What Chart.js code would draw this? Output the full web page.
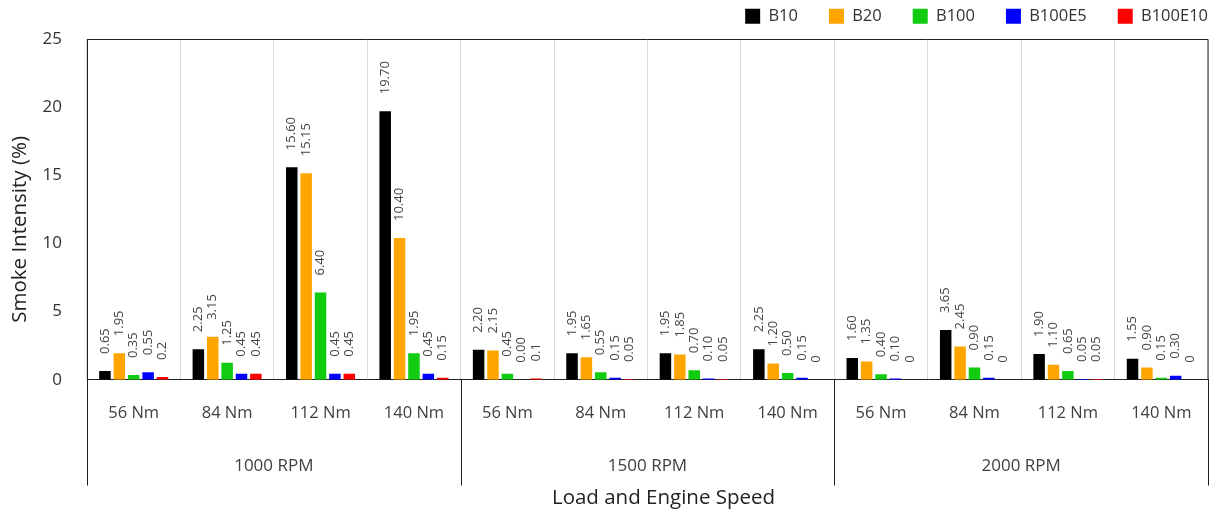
<!DOCTYPE html>
<html>
<head>
<meta charset="utf-8">
<script src="https://cdn.jsdelivr.net/npm/chart.js@4"></script>
<style>
  html, body { margin: 0; padding: 0; background: #fff; }
  #wrap { width: 1221px; height: 516px; }
</style>
</head>
<body>
<div id="wrap"><canvas id="smokeChart" width="1221" height="516"></canvas></div>
<script>
const loads = ['56 Nm', '84 Nm', '112 Nm', '140 Nm', '56 Nm', '84 Nm', '112 Nm', '140 Nm', '56 Nm', '84 Nm', '112 Nm', '140 Nm'];
const speeds = ['1000 RPM', '1500 RPM', '2000 RPM'];
const yTicks = [0, 5, 10, 15, 20, 25];
const xTitle = 'Load and Engine Speed';
const yTitle = 'Smoke Intensity (%)';

const b10 = [0.65, 2.25, 15.60, 19.70, 2.20, 1.95, 1.95, 2.25, 1.60, 3.65, 1.90, 1.55];
const b20 = [1.95, 3.15, 15.15, 10.40, 2.15, 1.65, 1.85, 1.20, 1.35, 2.45, 1.10, 0.90];
const b100 = [0.35, 1.25, 6.40, 1.95, 0.45, 0.55, 0.70, 0.50, 0.40, 0.90, 0.65, 0.15];
const b100e5 = [0.55, 0.45, 0.45, 0.45, 0.00, 0.15, 0.10, 0.15, 0.10, 0.15, 0.05, 0.30];
const b100e10 = [0.2, 0.45, 0.45, 0.15, 0.1, 0.05, 0.05, 0, 0, 0, 0.05, 0];

const FONT = "'Open Sans', 'DejaVu Sans', sans-serif";
const LEGEND_PAD = 31;

// value labels, rotated, above each bar
const barLabels = {
  id: 'barLabels',
  afterDatasetsDraw(chart) {
    const ctx = chart.ctx;
    ctx.save();
    ctx.font = `13px ${FONT}`;
    ctx.fillStyle = '#444';
    ctx.textAlign = 'left';
    ctx.textBaseline = 'middle';
    chart.data.datasets.forEach((ds, di) => {
      chart.getDatasetMeta(di).data.forEach((bar, i) => {
        const v = ds.data[i];
        const txt = di === 4 ? String(v) : v.toFixed(2);
        ctx.save();
        ctx.translate(bar.x, bar.y - 17);
        ctx.rotate(-Math.PI / 2);
        ctx.fillText(txt, 0, 0);
        ctx.restore();
      });
    });
    ctx.restore();
  }
};

// legend sits in the top strip, right aligned to the canvas edge
const legendBox = {
  id: 'legendBox',
  beforeInit(chart) {
    const lg = chart.legend;
    const fit = lg.fit;
    lg.fit = function () {
      fit.call(this);
      this.height = 39;
    };
  },
  afterLayout(chart) {
    const lg = chart.legend;
    lg.top = 16 - LEGEND_PAD - 8;
    lg.right = chart.width - 13 + LEGEND_PAD;
  }
};

// frame, group separators and the two axis titles (placed off-centre like the original)
const frameLines = {
  id: 'frameLines',
  afterDraw(chart) {
    const {ctx, chartArea} = chart;
    const x = chart.scales.x;
    const x2 = chart.scales.x2;
    const half = (x.getPixelForValue(1) - x.getPixelForValue(0)) / 2;
    ctx.save();
    ctx.strokeStyle = '#222';
    ctx.lineWidth = 1;
    ctx.beginPath();
    ctx.moveTo(chartArea.left, chartArea.top + 0.5);
    ctx.lineTo(chartArea.right, chartArea.top + 0.5);
    ctx.lineTo(chartArea.right, chartArea.bottom);
    ctx.stroke();
    [0, 4, 8, 12].forEach(i => {
      const px = Math.round(x.getPixelForValue(i) - half) + 0.5;
      ctx.beginPath();
      ctx.moveTo(px, chartArea.bottom);
      ctx.lineTo(px, x2.top + 38);
      ctx.stroke();
    });

    ctx.fillStyle = '#222';
    ctx.font = `20.5px ${FONT}`;
    ctx.textAlign = 'center';
    ctx.textBaseline = 'middle';
    ctx.fillText(xTitle, (chartArea.left + chartArea.right) / 2 + 16, x2.bottom + 22);
    ctx.translate(20, (chartArea.top + chartArea.bottom) / 2 + 20);
    ctx.rotate(-Math.PI / 2);
    ctx.fillText(yTitle, 0, 0);
    ctx.restore();
  }
};

new Chart(document.getElementById('smokeChart'), {
  type: 'bar',
  data: {
    labels: loads,
    datasets: [
      { label: 'B10', data: b10, backgroundColor: '#000000' },
      { label: 'B20', data: b20, backgroundColor: '#FFA500' },
      { label: 'B100', data: b100, backgroundColor: '#11CC11' },
      { label: 'B100E5', data: b100e5, backgroundColor: '#0000FF' },
      { label: 'B100E10', data: b100e10, backgroundColor: '#FF0000' }
    ]
  },
  options: {
    responsive: false,
    animation: false,
    layout: { padding: { left: 36, right: 13, top: 0, bottom: 40 } },
    datasets: { bar: { categoryPercentage: 0.77, barPercentage: 0.8 } },
    plugins: {
      tooltip: { enabled: false },
      legend: {
        position: 'top',
        align: 'end',
        labels: {
          boxWidth: 15,
          boxHeight: 15,
          padding: LEGEND_PAD,
          color: '#333',
          font: { family: FONT, size: 16.5 }
        }
      }
    },
    scales: {
      x: {
        grid: { display: true, offset: true, color: '#d9d9d9', drawTicks: false },
        border: { display: true, color: '#222' },
        ticks: { color: '#404040', padding: 24, font: { family: FONT, size: 16.5 } }
      },
      x2: {
        type: 'category',
        labels: speeds,
        position: 'bottom',
        offset: true,
        grid: { display: false },
        border: { display: false },
        ticks: { color: '#404040', padding: 0, font: { family: FONT, size: 17 } }
      },
      y: {
        min: 0,
        max: 25,
        afterBuildTicks(axis) { axis.ticks = yTicks.map(v => ({ value: v })); },
        afterFit(axis) { axis.width = 51; },
        grid: { display: false, drawTicks: false },
        border: { display: true, color: '#222' },
        ticks: { color: '#333', padding: 25, font: { family: FONT, size: 17 } }
      }
    }
  },
  plugins: [barLabels, legendBox, frameLines]
});
</script>
</body>
</html>
